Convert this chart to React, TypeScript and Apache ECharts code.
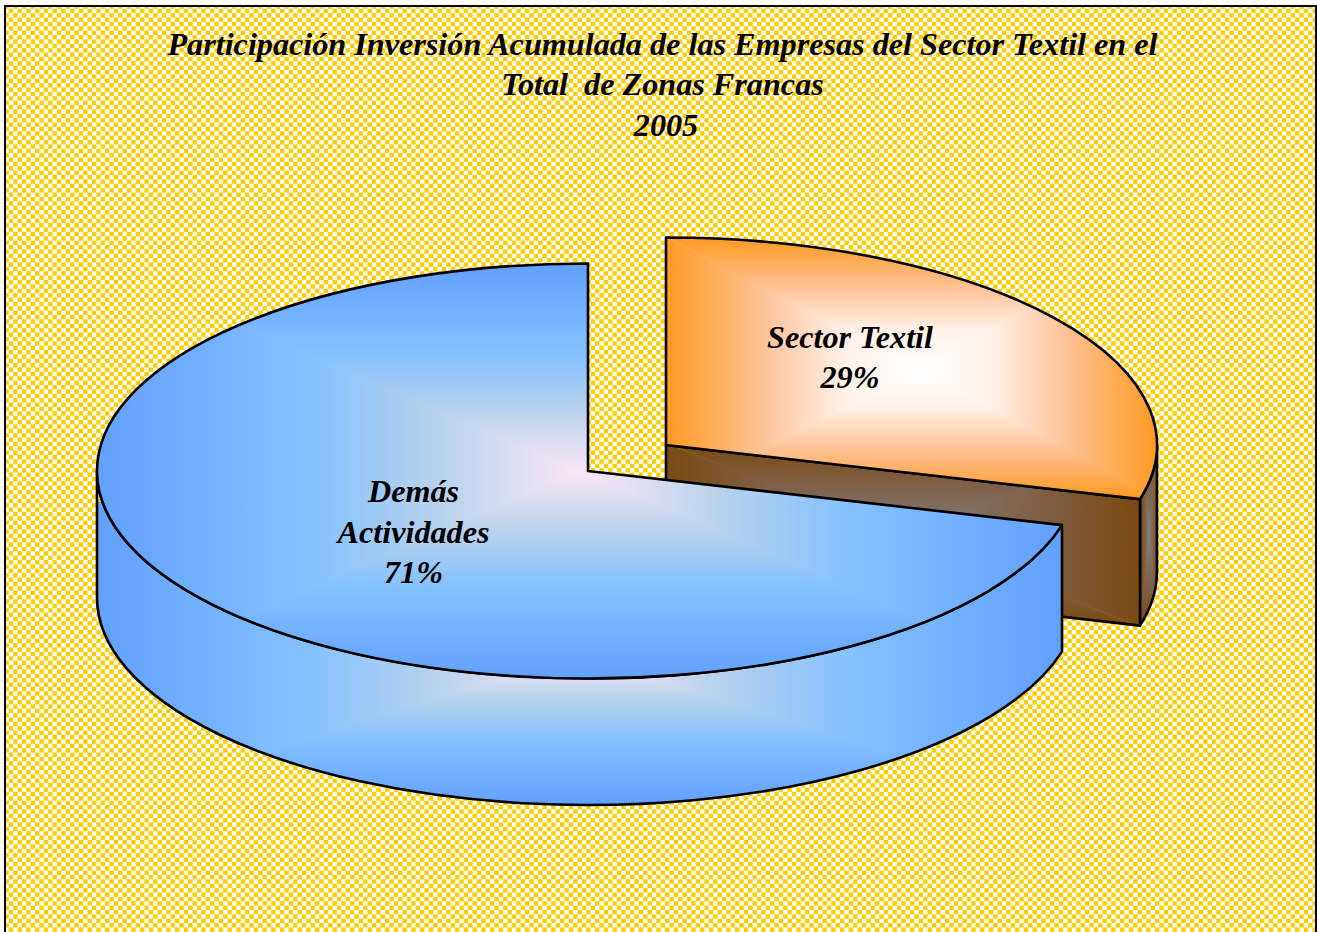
import React, { useEffect, useRef } from "react";
import * as echarts from "echarts";

const titleLines = [
  "Participación Inversión Acumulada de las Empresas del Sector Textil en el",
  "Total  de Zonas Francas",
  "2005",
];
const categories = ["Sector Textil", "Demás Actividades"];
const shareValues = [29.2, 70.8];
const labelNames = [["Sector Textil"], ["Demás", "Actividades"]];

const RX = 491;
const RY = 207.5;
const DEPTH = 126.5;
const FONT = '"Liberation Serif", "Times New Roman", serif';
const TEXT_FONT = `italic bold 32.2px ${FONT}`;

const orangeStops = [[0, "#FF9A22"], [0.4, "#FFC49C"], [0.7, "#FFF1E8"], [1, "#FFFFFF"]];
const blueStops = [[0, "#62A0FF"], [0.45, "#85C2FF"], [0.72, "#BBD3EC"], [1, "#FBE7F6"]];
const brownStops = [[0, "#7A4A10"], [0.45, "#7F6048"], [1, "#808080"]];

// presentation of each slice: centre of its ellipse and rectangular-path gradient boxes
const sliceLooks = [
  {
    cx: 666, cy: 445,
    top: { box: [666, 238, 1157, 498], c: [920, 369], stops: orangeStops },
    wall: { box: [1141, 445, 1157, 625], c: [1149, 535], stops: brownStops },
    cut: { box: [666, 445, 1141, 625], c: [903, 535], stops: brownStops },
    label: { x: 850, y: 336.5 },
  },
  {
    cx: 588, cy: 471,
    top: { box: [97, 264, 1062, 679], c: [580, 471], stops: blueStops },
    wall: { box: [97, 505, 1062, 805], c: [575, 655], stops: blueStops },
    cut: null,
    label: { x: 413.5, y: 491 },
  },
];

function stopsOf(stops: any[]) {
  return stops.map(([offset, color]) => ({ offset, color }));
}

function rectGradientFaces(d: string, g: any) {
  const [x0, y0, x1, y1] = g.box;
  const [cx, cy] = g.c;
  const pad = 3;
  const X0 = x0 - pad, Y0 = y0 - pad, X1 = x1 + pad, Y1 = y1 + pad;
  const lap = 1.2;
  const tris = [
    { pts: [[X0, Y0], [X1, Y0]], from: [cx, y0], apex: [cx, cy + lap] },
    { pts: [[X1, Y0], [X1, Y1]], from: [x1, cy], apex: [cx - lap, cy] },
    { pts: [[X1, Y1], [X0, Y1]], from: [cx, y1], apex: [cx, cy - lap] },
    { pts: [[X0, Y1], [X0, Y0]], from: [x0, cy], apex: [cx + lap, cy] },
  ];
  const faces: any[] = [];
  tris.forEach((t) => {
    faces.push({
      type: "path",
      shape: { pathData: d },
      style: {
        stroke: "none",
        fill: {
          type: "linear", global: true,
          x: t.from[0], y: t.from[1], x2: cx, y2: cy,
          colorStops: stopsOf(g.stops),
        },
      },
      clipPath: { type: "polygon", shape: { points: [t.apex, t.pts[0], t.pts[1]] } },
    });
  });
  return faces;
}

function outline(d: string) {
  return {
    type: "path",
    shape: { pathData: d },
    style: { fill: "none", stroke: "#000", lineWidth: 2.6, lineJoin: "round" },
  };
}

function renderSlice(params: any, api: any) {
  const i = params.dataIndex;
  const total = shareValues.reduce((s, v) => s + v, 0);
  const before = shareValues.slice(0, i).reduce((s, v) => s + v, 0);
  const a = (before / total) * 360;
  const b = a + (api.value(0) / total) * 360;
  const look = sliceLooks[i];
  const pt = (deg: number, dy = 0) => {
    const r = (deg * Math.PI) / 180;
    return `${look.cx + RX * Math.sin(r)} ${look.cy - RY * Math.cos(r) + dy}`;
  };
  const large = b - a > 180 ? 1 : 0;
  const topPath = `M${look.cx} ${look.cy}L${pt(a)}A${RX} ${RY} 0 ${large} 1 ${pt(b)}Z`;

  // outer wall: only the part of the rim on the front half of the ellipse is seen
  const wa = Math.max(a, 90);
  const wb = Math.min(b, 270);
  const wl = wb - wa > 180 ? 1 : 0;
  const wallPath =
    `M${pt(wa)}A${RX} ${RY} 0 ${wl} 1 ${pt(wb)}L${pt(wb, DEPTH)}A${RX} ${RY} 0 ${wl} 0 ${pt(wa, DEPTH)}Z`;

  const children: any[] = [];
  children.push(...rectGradientFaces(wallPath, look.wall), outline(wallPath));
  if (look.cut) {
    const cutPath = `M${look.cx} ${look.cy}L${pt(b)}L${pt(b, DEPTH)}L${look.cx} ${look.cy + DEPTH}Z`;
    children.push(...rectGradientFaces(cutPath, look.cut), outline(cutPath));
  }
  children.push(...rectGradientFaces(topPath, look.top), outline(topPath));
  const lines = [...labelNames[i], `${Math.round(api.value(0))}%`];
  lines.forEach((line, k) => {
    children.push({
      type: "text",
      x: look.label.x,
      y: look.label.y + k * 40.5,
      style: { text: line, fill: "#000", align: "center", verticalAlign: "middle", font: TEXT_FONT },
    });
  });
  return { type: "group", children };
}

function makeTile() {
  // 8 cells in 35 px with soft edges, as the reference's rescaled checker
  const cells = 8;
  const size = 35;
  const cell = size / cells;
  const c = document.createElement("canvas");
  c.width = size;
  c.height = size;
  const ctx = c.getContext("2d")!;
  ctx.fillStyle = "#FFFFFF";
  ctx.fillRect(0, 0, size, size);
  ctx.fillStyle = "#FFCC00";
  for (let y = 0; y < cells; y++) {
    for (let x = 0; x < cells; x++) {
      if ((x + y) % 2 === 0) ctx.fillRect(x * cell, y * cell, cell, cell);
    }
  }
  return { canvas: c, size };
}

const titleX = [662.5, 662.5, 666];

export default function App() {
  const ref = useRef<HTMLDivElement>(null);
  useEffect(() => {
    const chart = echarts.init(ref.current!, undefined, { renderer: "svg" });
    const tile = makeTile();
    chart.setOption({
      animation: false,
      backgroundColor: "#FFFFFF",
      graphic: [
        {
          type: "rect",
          z: 0,
          shape: { x: 5, y: 6, width: 1311, height: 940 },
          style: {
            fill: { image: tile.canvas, repeat: "repeat", imageWidth: tile.size, imageHeight: tile.size },
            stroke: "#000",
            lineWidth: 2,
          },
        },
        ...titleLines.map((line, k) => ({
          type: "text",
          z: 10,
          x: titleX[k],
          y: 43.5 + k * 40.5,
          style: { text: line, fill: "#000", align: "center", verticalAlign: "middle", font: TEXT_FONT },
        })),
      ],
      series: [
        {
          type: "custom",
          coordinateSystem: "none",
          silent: true,
          z: 5,
          clip: false,
          data: categories.map((name, i) => ({ name, value: [shareValues[i]] })),
          renderItem: renderSlice,
        },
      ],
    });
    return () => chart.dispose();
  }, []);
  return (
    <div
      ref={ref}
      style={{ position: "absolute", left: 0, top: 0, width: 1317, height: 932 }}
    />
  );
}
